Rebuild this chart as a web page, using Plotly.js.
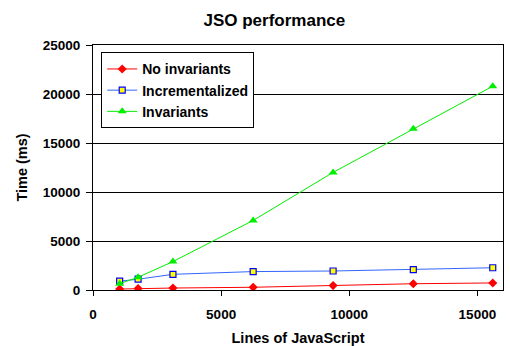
<!DOCTYPE html>
<html><head><meta charset="utf-8">
<script src="https://cdn.plot.ly/plotly-3.0.1.min.js"></script>
<style>html,body{margin:0;padding:0;background:#fff}#chart{width:510px;height:346px}</style>
</head><body><div id="chart"></div>
<script>
var linesOfJs = [1040, 1760, 3120, 6250, 9370, 12500, 15600];
var noInvariants = [100, 150, 200, 280, 450, 640, 720];
var incrementalized = [900, 1100, 1600, 1880, 1940, 2080, 2270];
var invariants = [650, 1300, 2900, 7100, 12000, 16450, 20800];
var seriesNames = ["No invariants", "Incrementalized", "Invariants"];
var xTicks = [0, 5000, 10000, 15000];
var xTickLabels = ["0", "5000", "10000", "15000"];
var yTicks = [0, 5000, 10000, 15000, 20000, 25000];
var yTickLabels = ["0", "5000", "10000", "15000", "20000", "25000"];

var font = "Liberation Sans, Arial, sans-serif";
var traces = [
  {x: linesOfJs, y: noInvariants, name: seriesNames[0], mode: "lines+markers",
   line: {color: "#ff0000", width: 1}, marker: {symbol: "diamond", size: 7, color: "#ff0000"}},
  {x: linesOfJs, y: incrementalized, name: seriesNames[1], mode: "lines+markers",
   line: {color: "#3366ff", width: 1}, marker: {symbol: "square", size: 6, color: "#ffff00", line: {color: "#0000ff", width: 1.2}}},
  {x: linesOfJs, y: invariants, name: seriesNames[2], mode: "lines+markers",
   line: {color: "#00ee00", width: 1}, marker: {symbol: "triangle-up", size: 8, color: "#00ee00"}}
];
var layout = {
  width: 510, height: 346,
  margin: {l: 93, r: 7, t: 45, b: 56},
  paper_bgcolor: "#fff", plot_bgcolor: "#fff",
  font: {family: font, color: "#000"},
  title: {text: "JSO performance", font: {size: 17, family: font, weight: "bold"}, x: 0.538, xanchor: "center", y: 0.942, yanchor: "middle"},
  showlegend: true,
  legend: {x: 0.02, y: 0.97, xanchor: "left", yanchor: "top", bgcolor: "#fff", bordercolor: "#000", borderwidth: 1,
    font: {size: 14, family: font, weight: "bold"}, itemwidth: 30, tracegroupgap: 0},
  xaxis: {range: [0, 16000], tickvals: xTicks, ticktext: xTickLabels,
    showgrid: false, zeroline: false, showline: true, mirror: true, linecolor: "#000", linewidth: 1,
    ticks: "outside", ticklen: 5, tickcolor: "#000", ticklabelstandoff: 7, tickfont: {size: 13.5, family: font, weight: "bold"},
    title: {text: "Lines of JavaScript", font: {size: 14.5, family: font, weight: "bold"}, standoff: 11}},
  yaxis: {range: [0, 25000], tickvals: yTicks, ticktext: yTickLabels,
    showgrid: true, gridcolor: "#000", gridwidth: 1, zeroline: false, showline: true, mirror: true, linecolor: "#000", linewidth: 1,
    ticks: "outside", ticklen: 6, tickcolor: "#000", ticklabelstandoff: 3, tickfont: {size: 13.5, family: font, weight: "bold"},
    title: {text: "Time (ms)", font: {size: 14.5, family: font, weight: "bold"}, standoff: 11}}
};
Plotly.newPlot("chart", traces, layout, {displayModeBar: false, staticPlot: true});
</script></body></html>
